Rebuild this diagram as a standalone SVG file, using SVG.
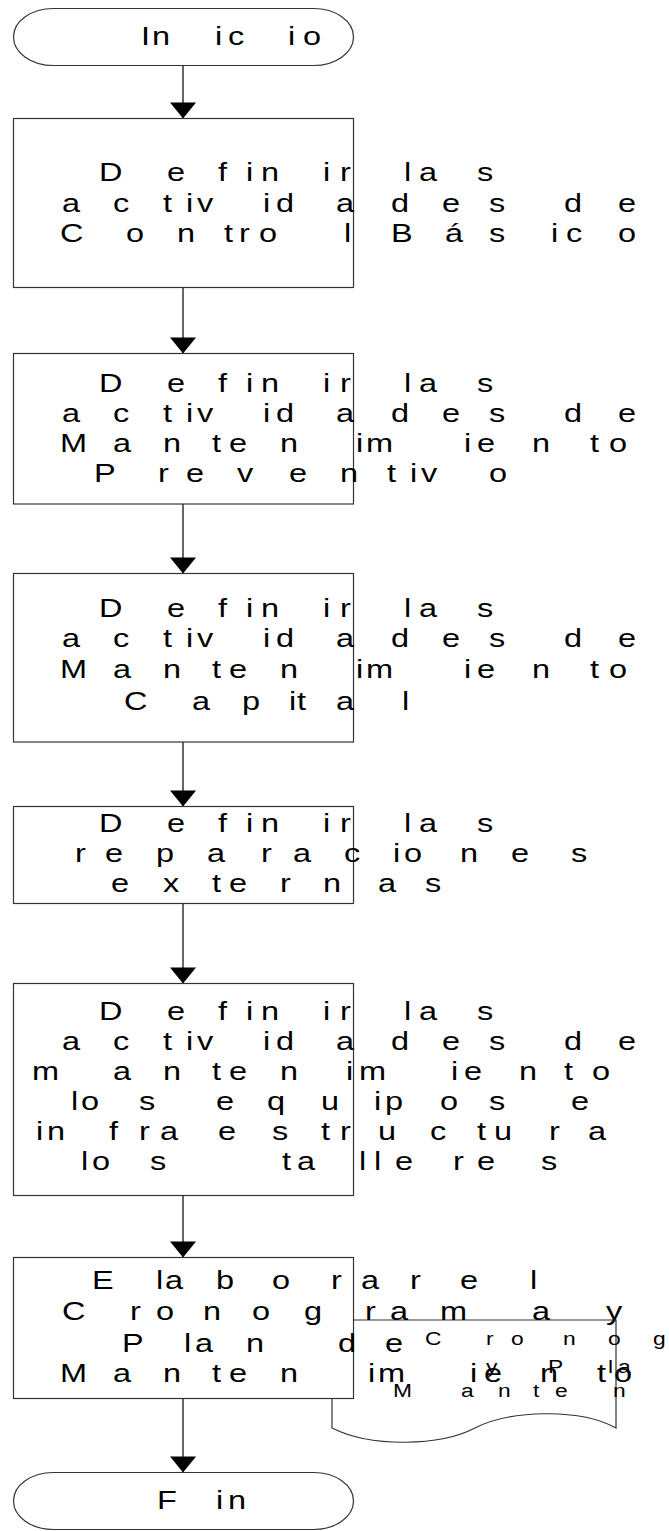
<svg xmlns="http://www.w3.org/2000/svg" width="669" height="1531" viewBox="0 0 669 1531">
  <style>
    .shape { fill: #ffffff; stroke: #333333; stroke-width: 1.2; }
    .t { font-family: "Liberation Sans", Arial, sans-serif; font-size: 25px; fill: #000000; }
    .d { font-family: "Liberation Sans", Arial, sans-serif; font-size: 19px; fill: #000000; }
    .conn { stroke: #000000; stroke-width: 1.2; fill: none; marker-end: url(#arrow); }
  </style>
  <defs>
    <marker id="arrow" markerUnits="userSpaceOnUse" markerWidth="28" markerHeight="18" viewBox="0 0 28 18" refX="14" refY="17" orient="0">
      <path d="M1,1 L27,1 L14,17 Z" fill="#000000"/>
    </marker>
  </defs>

  <rect width="669" height="1531" fill="#ffffff"/>

  <!-- flow connectors -->
  <g id="connectors">
    <line class="conn" x1="183" y1="65.5" x2="183" y2="118.5"/>
    <line class="conn" x1="183" y1="287.5" x2="183" y2="353.5"/>
    <line class="conn" x1="183" y1="504" x2="183" y2="573.5"/>
    <line class="conn" x1="183" y1="742" x2="183" y2="806.5"/>
    <line class="conn" x1="183" y1="903.5" x2="183" y2="983.5"/>
    <line class="conn" x1="183" y1="1195.5" x2="183" y2="1257.5"/>
    <line class="conn" x1="183" y1="1398.5" x2="183" y2="1472.5"/>
  </g>

  <!-- start terminator; labels use a widened face (horizontal scale 1.3) -->
  <g id="inicio">
    <rect class="shape" x="13.5" y="8.5" width="340" height="57" rx="40" ry="28.5"/>
    <text class="t" transform="scale(1.3 1)" x="108.5 116.9 165.4 175.4 221.5 233.1" y="45">Inicio</text>
  </g>

  <!-- step 1 -->
  <g id="control-basico">
    <rect class="shape" x="13.5" y="118.5" width="340" height="169"/>
    <text class="t" transform="scale(1.3 1)" x="76.2 128.5 167.7 189.2 200.8 248.5 261.5 310.8 322.3 366.9" y="181">Definirlas</text>
    <text class="t" transform="scale(1.3 1)" x="47.7 86.9 125.4 143.1 151.5 202.3 212.3 258.5 300.8 340 376.2 433.8 475.4" y="212">actividadesde</text>
    <text class="t" transform="scale(1.3 1)" x="46.2 96.9 136.2 172.3 183.8 199.2 264.6 300.8 342.3 376.2 423.8 435.4 475.4" y="242">ControlBásico</text>
  </g>

  <!-- step 2 -->
  <g id="preventivo">
    <rect class="shape" x="13.5" y="353.5" width="340" height="150.5"/>
    <text class="t" transform="scale(1.3 1)" x="76.2 128.5 167.7 189.2 200.8 248.5 261.5 310.8 322.3 366.9" y="392">Definirlas</text>
    <text class="t" transform="scale(1.3 1)" x="47.7 86.9 125.4 143.1 151.5 202.3 212.3 258.5 300.8 340 376.2 433.8 475.4" y="422">actividadesde</text>
    <text class="t" transform="scale(1.3 1)" x="46.2 86.9 125.4 163.1 176.2 215.4 273.8 281.5 356.9 366.9 409.2 453.8 468.5" y="452">Mantenimiento</text>
    <text class="t" transform="scale(1.3 1)" x="72.3 121.5 143.1 182.3 222.3 261.5 297.7 315.4 323.8 376.2" y="482">Preventivo</text>
  </g>

  <!-- step 3 -->
  <g id="capital">
    <rect class="shape" x="13.5" y="573.5" width="340" height="168.5"/>
    <text class="t" transform="scale(1.3 1)" x="76.2 128.5 167.7 189.2 200.8 248.5 261.5 310.8 322.3 366.9" y="617">Definirlas</text>
    <text class="t" transform="scale(1.3 1)" x="47.7 86.9 125.4 143.1 151.5 202.3 212.3 258.5 300.8 340 376.2 433.8 475.4" y="647">actividadesde</text>
    <text class="t" transform="scale(1.3 1)" x="46.2 86.9 125.4 163.1 176.2 215.4 273.8 281.5 356.9 366.9 409.2 453.8 468.5" y="678">Mantenimiento</text>
    <text class="t" transform="scale(1.3 1)" x="95.4 147.7 186.2 222.3 228.5 258.5 309.2" y="710">Capital</text>
  </g>

  <!-- step 4 -->
  <g id="reparaciones">
    <rect class="shape" x="13.5" y="806.5" width="340" height="97"/>
    <text class="t" transform="scale(1.3 1)" x="76.2 128.5 167.7 189.2 200.8 248.5 261.5 310.8 322.3 366.9" y="832">Definirlas</text>
    <text class="t" transform="scale(1.3 1)" x="57.7 80.8 120 159.2 200.8 225.4 264.6 302.3 310.8 353.8 393.1 439.2" y="862">reparaciones</text>
    <text class="t" transform="scale(1.3 1)" x="85.4 125.4 163.1 176.2 215.4 248.5 290.8 326.9" y="892">externas</text>
  </g>

  <!-- step 5 -->
  <g id="talleres">
    <rect class="shape" x="13.5" y="983.5" width="340" height="212"/>
    <text class="t" transform="scale(1.3 1)" x="76.2 128.5 167.7 189.2 200.8 248.5 261.5 310.8 322.3 366.9" y="1020">Definirlas</text>
    <text class="t" transform="scale(1.3 1)" x="47.7 86.9 125.4 143.1 151.5 202.3 212.3 258.5 300.8 340 376.2 433.8 475.4" y="1050">actividadesde</text>
    <text class="t" transform="scale(1.3 1)" x="24.6 86.9 125.4 163.1 176.2 215.4 266.2 276.2 346.9 356.9 399.2 433.8 455.4" y="1080">mantenimiento</text>
    <text class="t" transform="scale(1.3 1)" x="54.6 62.3 106.9 166.2 205.4 246.9 287.7 296.2 338.5 376.2 439.2" y="1110">losequipose</text>
    <text class="t" transform="scale(1.3 1)" x="27.7 36.2 83.8 106.9 123.1 167.7 209.2 246.9 261.5 290.8 330.8 366.9 380 422.3 452.3" y="1140">infraestructura</text>
    <text class="t" transform="scale(1.3 1)" x="62.3 70.8 115.4 216.9 228.5 276.2 287.7 303.8 348.5 366.9 416.2" y="1170">lostalleres</text>
  </g>

  <!-- document: cronograma (sits behind the last step box) -->
  <g id="cronograma">
    <path class="shape" d="M332,1320 L616,1320 L616,1428 C580,1408 510,1410 475,1428 C440,1446 372,1448 332,1428 Z"/>
    <text class="d" transform="scale(1.2 1)" x="354.2 405 425.8 469.2 506.7 544.2" y="1345">Cronog</text>
    <text class="d" transform="scale(1.2 1)" x="405 456.7 506.7 515" y="1373">yPla</text>
    <text class="d" transform="scale(1.2 1)" x="327.5 384.2 415 444.2 462.5 510.8" y="1397">Manten</text>
  </g>

  <!-- step 6 -->
  <g id="elaborar">
    <rect class="shape" x="13.5" y="1257.5" width="340" height="141"/>
    <text class="t" transform="scale(1.3 1)" x="70.8 120 126.9 166.2 209.2 254.6 277.7 315.4 353.8 407.7" y="1289">Elaborarel</text>
    <text class="t" transform="scale(1.3 1)" x="47.7 100 120 156.2 193.8 233.8 280.8 300 338.5 409.2 466.2" y="1320">Cronogramay</text>
    <text class="t" transform="scale(1.3 1)" x="93.8 141.5 150 189.2 260 296.2" y="1352">Plande</text>
    <text class="t" transform="scale(1.3 1)" x="46.2 86.9 125.4 163.1 176.2 215.4 283.1 290.8 361.5 372.3 415.4 459.2 472.3" y="1382">Mantenimiento</text>
  </g>

  <!-- end terminator -->
  <g id="fin">
    <rect class="shape" x="13.5" y="1472.5" width="340" height="57" rx="40" ry="28.5"/>
    <text class="t" transform="scale(1.3 1)" x="120.8 166.2 175.4" y="1509">Fin</text>
  </g>
</svg>
